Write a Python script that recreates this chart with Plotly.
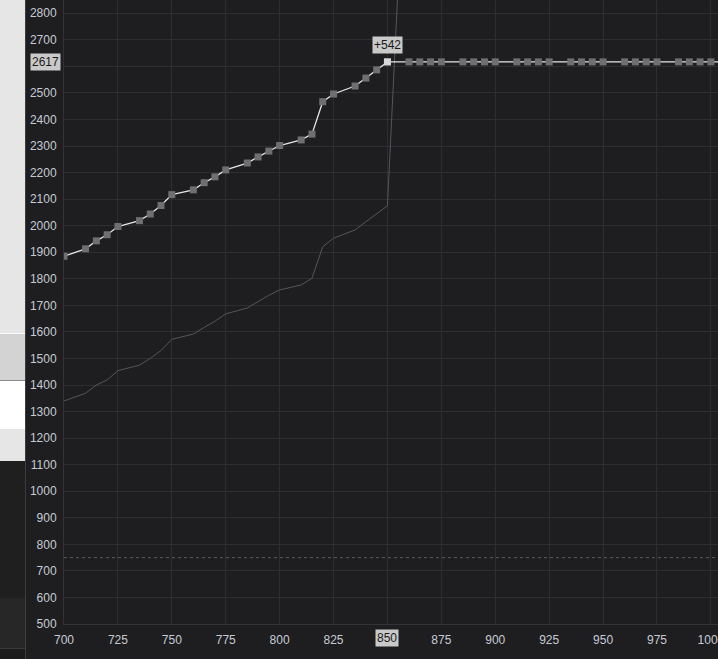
import plotly.graph_objects as go

# ---- data ----
main_x = [700, 710, 715, 720, 725, 735, 740, 745, 750, 760, 765, 770, 775,
          785, 790, 795, 800, 810, 815, 820, 825, 835, 840, 845, 850,
          860, 865, 870, 875, 885, 890, 895, 900, 910, 915, 920, 925,
          935, 940, 945, 950, 960, 965, 970, 975, 985, 990, 995, 1000, 1010]
main_y = [1885, 1913, 1943, 1966, 1997, 2019, 2044, 2076, 2117, 2135, 2162, 2184, 2210,
          2236, 2259, 2281, 2302, 2323, 2345, 2467, 2496, 2526, 2556, 2587, 2617,
          2617, 2617, 2617, 2617, 2617, 2617, 2617, 2617, 2617, 2617, 2617, 2617,
          2617, 2617, 2617, 2617, 2617, 2617, 2617, 2617, 2617, 2617, 2617, 2617, 2617]

ref_x = [700, 710, 715, 720, 725, 735, 740, 745, 750, 760, 765, 770, 775,
         785, 790, 795, 800, 810, 815, 820, 825, 835, 840, 845, 850, 855]
ref_y = [1340, 1369, 1400, 1419, 1454, 1475, 1500, 1530, 1572, 1592, 1617, 1640, 1668,
         1690, 1714, 1738, 1758, 1777, 1802, 1921, 1953, 1984, 2015, 2044, 2075, 2910]

highlight_x = 850
highlight_y = 2617
delta_label = "+542"
level_line = 750

x_ticks = [700, 725, 750, 775, 800, 825, 850, 875, 900, 925, 950, 975, 1000]
y_ticks = list(range(500, 2900, 100))

# ---- styling ----
W, H = 718, 659
ML, MB = 64, 35
PW, PH = W - ML, H - MB
BG = "#1e1e21"
GRID = "#2e2e32"
TICKC = "#c6cbd3"
FONT = "Liberation Sans, Arial, sans-serif"


def px(xp):
    return (xp - ML) / PW


def py(yp):
    return 1 - yp / PH


# tick labels hidden under the highlight boxes
x_text = ["" if v == highlight_x else str(v) for v in x_ticks]
y_text = ["" if abs(v - highlight_y) < 50 else str(v) for v in y_ticks]

fig = go.Figure()

fig.add_trace(go.Scatter(
    x=ref_x, y=ref_y, mode="lines",
    line=dict(color="#56565a", width=1),
    hoverinfo="skip", showlegend=False))

fig.add_trace(go.Scatter(
    x=main_x, y=main_y, mode="lines+markers",
    line=dict(color="#e6e6e6", width=1.3),
    marker=dict(symbol="square", size=7, color="#6f6f72", line=dict(width=0)),
    showlegend=False))

fig.add_trace(go.Scatter(
    x=[highlight_x], y=[highlight_y], mode="markers",
    marker=dict(symbol="square", size=7, color="#d8d8d8", line=dict(width=0)),
    showlegend=False))

shapes = []
# left-side panel decoration
panel = [
    (0, 333, "#e6e6e6"),
    (333, 334, "#fafafa"),
    (334, 380, "#d3d3d3"),
    (380, 381, "#8a8a8a"),
    (381, 429, "#ffffff"),
    (429, 461, "#e6e6e6"),
    (461, 598, "#1f1f1f"),
    (598, 648, "#272727"),
    (648, 649, "#3a3a3a"),
    (649, 659, "#1b1b1b"),
]
for y0, y1, c in panel:
    shapes.append(dict(type="rect", xref="paper", yref="paper",
                       x0=px(0), x1=px(25), y0=py(y1), y1=py(y0),
                       fillcolor=c, line=dict(width=0), layer="above"))
shapes.append(dict(type="line", xref="paper", yref="paper",
                   x0=px(25.5), x1=px(25.5), y0=py(H), y1=py(0),
                   line=dict(color="#3c3c3e", width=1), layer="above"))
# dotted level line
shapes.append(dict(type="line", xref="paper", yref="y",
                   x0=0, x1=1, y0=level_line, y1=level_line,
                   line=dict(color="#5c5c60", width=1, dash="dot"), layer="below"))

annotations = [
    dict(x=highlight_x, y=highlight_y, xref="x", yref="y", text=delta_label,
         showarrow=False, yshift=17, bgcolor="#c9c9c9", borderpad=1,
         font=dict(family=FONT, size=12, color="#1a1a1a")),
    dict(x=0, y=highlight_y, xref="paper", yref="y", text=str(highlight_y),
         showarrow=False, xanchor="right", xshift=-3, bgcolor="#c9c9c9", borderpad=1,
         font=dict(family=FONT, size=12, color="#1a1a1a")),
    dict(x=highlight_x, y=0, xref="x", yref="paper", text=str(highlight_x),
         showarrow=False, yanchor="top", yshift=-5, bgcolor="#c9c9c9", borderpad=1,
         font=dict(family=FONT, size=12, color="#1a1a1a")),
]

fig.update_layout(
    width=W, height=H,
    margin=dict(l=ML, r=0, t=0, b=MB, pad=0, autoexpand=False),
    paper_bgcolor=BG, plot_bgcolor=BG,
    font=dict(family=FONT, size=12, color=TICKC),
    shapes=shapes, annotations=annotations,
    hovermode=False,
    xaxis=dict(range=[700, 1003.3], tickvals=x_ticks, ticktext=x_text,
               showgrid=True, gridcolor=GRID, gridwidth=1, zeroline=False,
               showline=True, linecolor="#333337", linewidth=1,
               ticks="", ticklabelstandoff=5, ticklabeloverflow="allow",
               automargin=False,
               tickfont=dict(family=FONT, size=12, color=TICKC)),
    yaxis=dict(range=[500, 2850], tickvals=y_ticks, ticktext=y_text,
               showgrid=True, gridcolor=GRID, gridwidth=1, zeroline=False,
               showline=True, linecolor="#333337", linewidth=1,
               ticks="", ticklabelstandoff=4, ticklabeloverflow="allow",
               automargin=False,
               tickfont=dict(family=FONT, size=12, color=TICKC)),
)

fig.write_html("out.html")
